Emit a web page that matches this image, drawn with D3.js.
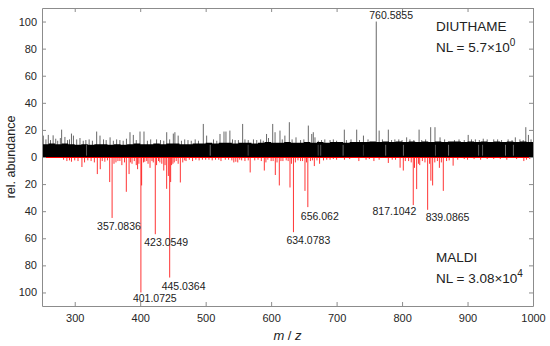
<!DOCTYPE html>
<html>
  <head>
    <meta charset="utf-8" />
    <title>Mirror spectrum</title>
    <script src="https://d3js.org/d3.v7.min.js"></script>
    <style>
      body { margin: 0; background: #fff; }
      text { font-family: "Liberation Sans", Arial, Helvetica, sans-serif; fill: #222; }
      .axis path, .axis line { stroke: #8c8c8c; }
      .axis text { font-size: 11px; fill: #262626; }
    </style>
  </head>
  <body>
    <svg id="spectrum"></svg>
    <script>
      // DIUTHAME (top, black) : tall peaks above the noise band
      var diuMz = [252, 259.6, 267, 278, 280, 285, 295, 298, 303, 308, 333.5, 338.6, 344, 354, 369,
        384.4, 389.5, 399.7, 405.8, 425, 440.5, 450.6, 453, 458, 468, 478, 496.4, 501.5, 521.9, 528,
        531, 537, 545, 556.5, 565, 573, 593, 596, 602.4, 606, 613.5, 621, 627.8, 638, 656.8, 662,
        664.4, 667, 682, 690, 711.8, 715, 730.7, 741, 760.5855, 765, 779, 789, 807, 826, 830, 843.7,
        850.3, 858, 901, 906, 924, 940, 973, 989, 993];
      var diuInt = [15.8, 16.3, 16, 14, 20.2, 14.8, 17.3, 15.8, 13, 14, 18.8, 15.8, 13, 14.5, 12.5,
        18.3, 16.3, 18.8, 18.8, 13, 18.3, 17.3, 18.3, 15.8, 13, 12, 24.4, 15.8, 17, 18.8,
        18.8, 19.5, 12.5, 24.4, 12.5, 13, 17, 14, 24.4, 18.3, 19.5, 15.8, 25.7, 14.5, 23.2, 17,
        18.3, 14.5, 13, 12.5, 20.2, 12.5, 20.2, 15.8, 100, 19.5, 20.2, 13, 14.5, 20.2, 12.5, 22,
        22, 14.5, 16.3, 13, 13.5, 13, 14.5, 22, 16.3];

      // DIUTHAME small peaks just over the noise band
      var diuMinorMz = [256, 263, 271, 274, 289, 292, 313, 317, 322, 327, 348, 359, 364, 374, 379,
        394, 411, 416, 431, 436, 445, 463, 473, 484, 489, 512, 517, 541, 550, 560, 578, 584, 588,
        617, 632, 645, 650, 672, 677, 695, 700, 722, 735, 748, 770, 784, 795, 800, 812, 818, 836,
        865, 880, 887, 895, 912, 918, 930, 946, 952, 962, 968, 980, 985, 997];
      var diuMinorInt = [13, 12.5, 13.5, 12, 12.5, 13, 12, 12.5, 13, 12, 12.5, 12, 13, 12, 13.5,
        12.5, 12, 13, 12.5, 12, 13, 12, 12.5, 13, 12, 13, 12, 13, 12.5, 13, 12.5, 13, 12,
        13, 13, 12.5, 13, 12, 12.5, 13, 12, 13, 12.5, 13, 13, 12.5, 13, 12.5, 13, 12.5, 13,
        13, 12.5, 13, 12.5, 13, 12.5, 13, 13, 12.5, 13, 12.5, 13, 12.5, 13];

      // DIUTHAME noise band, level every 10 m/z from 250 to 1000
      var noiseMz = d3.range(250, 1001, 10);
      var noiseLevel = [9.5, 10, 9.5, 10, 9.5, 9, 9.5, 9, 9.5, 9.5, 9, 9.5, 9, 9.5, 10, 9.5,
        9.5, 10, 9.5, 10, 10, 9.5, 9.5, 10, 10, 10.5, 10, 10.5, 10.5, 10, 10.5, 10.5, 10, 10.5,
        11, 10.5, 10.5, 11, 10.5, 10.5, 11, 10.5, 11, 10.5, 11, 11, 10.5, 11, 11, 11, 11.5, 11,
        11.5, 11, 11.5, 11, 11.5, 11, 11.5, 11, 11.5, 11, 11.5, 11.5, 11, 11.5, 11, 11.5, 11,
        11.5, 11, 11.5, 11, 11.5, 11, 11];
      // places where the noise band is thin
      var noiseGapMz = [318, 507, 565, 672, 676, 710, 741, 775, 802, 851, 871, 917, 923, 958, 970];

      // MALDI (bottom, red)
      var maldiMz = [288, 295, 300, 311, 315, 325, 330, 334.5, 339, 346, 353.4, 357.0836, 360, 366,
        372, 376, 378.8, 383, 387.5, 394, 396, 398, 401.0725, 402.2, 405, 410, 415, 420, 423.0549,
        425, 433, 436, 440.4, 443, 445.0364, 446.5, 450, 455, 461.3, 465, 470, 480, 490, 500, 510,
        523.4, 530, 543, 546, 549, 555, 560, 568, 575, 585, 589.6, 592, 600, 606.4, 612.5, 618,
        623, 628.8, 634.0783, 637, 645, 651.7, 656.062, 660, 666, 674, 680, 690, 700, 712, 734,
        745, 757, 765, 779, 785, 797, 801.9, 810, 817.1042, 819, 822.3, 827, 835, 839.0865, 844,
        846.7, 850, 857, 863, 868, 878, 885, 900, 920, 940, 960, 975, 986, 990];
      var maldiInt = [3, 3.5, 2.5, 7.4, 4, 3, 4, 12.6, 9, 3.5, 18.5, 45, 5, 3,
        6, 4, 25.7, 12.6, 5, 6, 9, 5, 100, 21, 4, 3, 8, 4, 57,
        6, 5, 10, 23.5, 14, 89, 18.5, 5, 3, 18.8, 4, 3, 3, 2.5, 2, 2.5,
        3, 2, 4, 3.5, 4, 2.5, 3, 11.4, 2.5, 3, 10, 4, 3, 13.3, 21, 3,
        2.5, 22.5, 55.5, 4, 3, 25, 37, 3, 6.7, 5, 2.5, 2, 2, 2, 3,
        2, 3, 2, 4.4, 2, 7.9, 10, 3, 35.5, 8, 23.7, 6, 4, 39, 17.5,
        21, 4, 8, 25, 3, 6.4, 2, 2, 2, 1.5, 2, 1.5, 3, 2];

      // MALDI small peaks near the baseline
      var maldiMinorMz = [283, 292, 305, 320, 342, 350, 363, 369, 385, 391, 407, 412, 418, 428, 430,
        438, 448, 452, 458, 468, 475, 485, 495, 505, 515, 520, 535, 540, 552, 565, 580, 595, 603,
        609, 615, 626, 631, 641, 648, 654, 663, 670, 685, 695, 720, 750, 790, 805, 814, 825, 831,
        842, 854, 860, 872, 895, 910, 930, 950, 995];
      var maldiMinorInt = [2, 2.5, 3, 2.5, 3, 2.5, 4, 3, 4, 3, 3.5, 5, 3, 3, 4,
        6, 6, 4, 5, 2.5, 2, 2, 2, 2, 2, 2, 2, 2.5, 2, 2.5, 2, 2, 3,
        4, 3, 3, 5, 2.5, 3, 4, 2.5, 2.5, 2, 1.5, 1.5, 1.5, 2, 3, 4, 5, 3,
        5, 3, 4, 2.5, 1.5, 1.5, 1.5, 1.5, 1.5];

      var diuLabels = ["760.5855"];
      var maldiLabels = ["357.0836", "401.0725", "423.0549", "445.0364", "634.0783", "656.062",
        "817.1042", "839.0865"];

      var xTicks = [300, 400, 500, 600, 700, 800, 900, 1000];
      var yTicks = [-100, -80, -60, -40, -20, 0, 20, 40, 60, 80, 100];

      var width = 550, height = 346;
      var margin = {top: 8, right: 17, bottom: 40, left: 42};

      var svg = d3.select("#spectrum")
        .attr("width", width)
        .attr("height", height);

      var x = d3.scaleLinear()
        .domain([250, 1000])
        .range([margin.left, width - margin.right]);

      var y = d3.scaleLinear()
        .domain([-110, 110])
        .range([height - margin.bottom, margin.top]);

      // label offsets in px (dx from peak, dy from peak tip, anchor)
      var labelPos = {
        "760.5855": [-7, -3, "start"],
        "357.0836": [-15, 12, "start"],
        "401.0725": [-8, 10, "start"],
        "423.0549": [-11, 12, "start"],
        "445.0364": [-8, 12.5, "start"],
        "634.0783": [-7, 12, "start"],
        "656.062": [-7, 13, "start"],
        "817.1042": [3, 10, "end"],
        "839.0865": [-2, 11, "start"]
      };

      function pairs(mz, v) {
        return mz.map(function(d, i) { return {mz: d, v: v[i]}; });
      }
      var maldi = pairs(maldiMz, maldiInt);
      var maldiAll = maldi.concat(pairs(maldiMinorMz, maldiMinorInt));
      var diu = pairs(diuMz, diuInt);
      var diuAll = diu.concat(pairs(diuMinorMz, diuMinorInt));
      var noise = pairs(noiseMz, noiseLevel);

      // red MALDI sticks
      svg.append("g").selectAll("line")
        .data(maldiAll)
        .enter().append("line")
        .attr("x1", function(d) { return x(d.mz); })
        .attr("x2", function(d) { return x(d.mz); })
        .attr("y1", y(0))
        .attr("y2", function(d) { return y(-d.v); })
        .attr("stroke", "red")
        .attr("stroke-width", 0.8);

      svg.append("line")
        .attr("x1", x(250)).attr("x2", x(1000))
        .attr("y1", y(0) + 0.5).attr("y2", y(0) + 0.5)
        .attr("stroke", "red")
        .attr("stroke-width", 1);

      // black noise band
      var band = d3.area()
        .curve(d3.curveStepAfter)
        .x(function(d) { return x(d.mz); })
        .y0(y(0))
        .y1(function(d) { return y(d.v); });

      svg.append("path")
        .datum(noise)
        .attr("d", band)
        .attr("fill", "#000");

      svg.append("g").selectAll("line")
        .data(noiseGapMz)
        .enter().append("line")
        .attr("x1", function(d) { return x(d); })
        .attr("x2", function(d) { return x(d); })
        .attr("y1", y(1))
        .attr("y2", y(9))
        .attr("stroke", "#fff")
        .attr("stroke-opacity", 0.55)
        .attr("stroke-width", 0.8);

      svg.append("g").selectAll("line")
        .data(diuAll)
        .enter().append("line")
        .attr("x1", function(d) { return x(d.mz); })
        .attr("x2", function(d) { return x(d.mz); })
        .attr("y1", y(0))
        .attr("y2", function(d) { return y(d.v); })
        .attr("stroke", "#000")
        .attr("stroke-width", 0.6);

      // axes box
      var fmt = function(d) { return Math.abs(d); };

      svg.append("g").attr("class", "axis")
        .attr("transform", "translate(" + margin.left + ",0)")
        .call(d3.axisLeft(y).tickValues(yTicks).tickFormat(fmt)
          .tickSizeInner(-4).tickSizeOuter(0).tickPadding(5));

      svg.append("g").attr("class", "axis")
        .attr("transform", "translate(" + (width - margin.right) + ",0)")
        .call(d3.axisRight(y).tickValues(yTicks).tickFormat("")
          .tickSizeInner(-4).tickSizeOuter(0));

      svg.append("g").attr("class", "axis")
        .attr("transform", "translate(0," + (height - margin.bottom) + ")")
        .call(d3.axisBottom(x).tickValues(xTicks).tickFormat(d3.format("d"))
          .tickSizeInner(-4).tickSizeOuter(0).tickPadding(8));

      svg.append("g").attr("class", "axis")
        .attr("transform", "translate(0," + margin.top + ")")
        .call(d3.axisTop(x).tickValues(xTicks).tickFormat("")
          .tickSizeInner(-4).tickSizeOuter(0));

      svg.selectAll(".axis .domain").attr("stroke", "#8c8c8c");

      // peak labels
      function peakLabel(txt, top) {
        var mz = +txt;
        var list = top ? diu : maldi;
        var pk = list.filter(function(d) { return d.mz === mz; })[0];
        var p = labelPos[txt];
        svg.append("text")
          .attr("x", x(mz) + p[0])
          .attr("y", (top ? y(pk.v) : y(-pk.v)) + p[1])
          .attr("text-anchor", p[2])
          .style("font-size", "10.5px")
          .text(txt);
      }
      diuLabels.forEach(function(t) { peakLabel(t, true); });
      maldiLabels.forEach(function(t) { peakLabel(t, false); });

      // legend-like annotations
      function nlText(yPos, name, mant, exp) {
        svg.append("text")
          .attr("x", 436).attr("y", yPos)
          .style("font-size", "13.5px")
          .text(name);
        var t = svg.append("text")
          .attr("x", 436).attr("y", yPos + 21)
          .style("font-size", "13.5px");
        t.append("tspan").text("NL = " + mant + "\u00d710");
        t.append("tspan").attr("dy", -6).style("font-size", "10px").text(exp);
      }
      nlText(31, "DIUTHAME", "5.7", "0");
      nlText(262, "MALDI", "3.08", "4");

      // axis titles
      svg.append("text")
        .attr("transform", "translate(15," + y(0) + ") rotate(-90)")
        .attr("text-anchor", "middle")
        .style("font-size", "12.5px")
        .text("rel. abundance");

      var xt = svg.append("text")
        .attr("x", (x(250) + x(1000)) / 2)
        .attr("y", 340)
        .attr("text-anchor", "middle")
        .style("font-size", "13px");
      xt.append("tspan").style("font-style", "italic").text("m");
      xt.append("tspan").text(" / ");
      xt.append("tspan").style("font-style", "italic").text("z");
    </script>
  </body>
</html>
